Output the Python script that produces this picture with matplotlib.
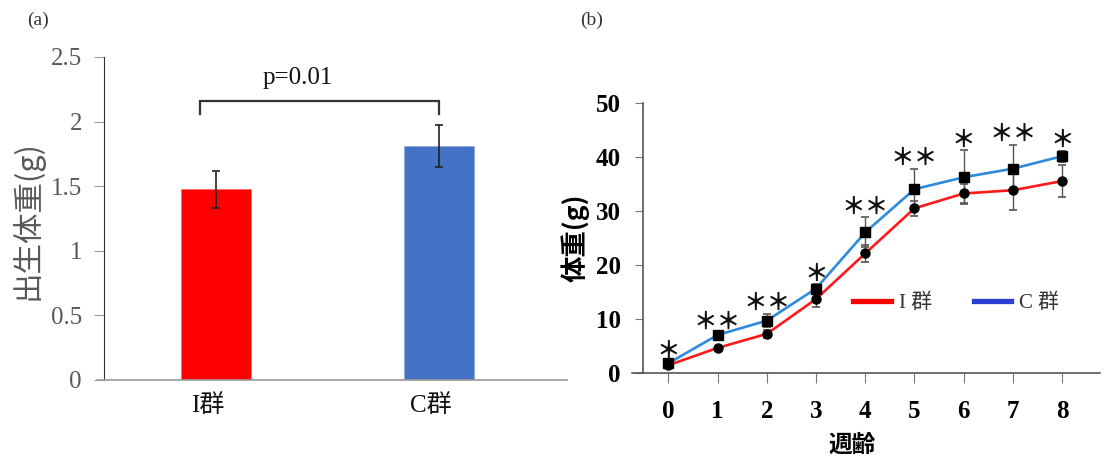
import matplotlib
matplotlib.use("Agg")
import matplotlib.pyplot as plt
from matplotlib.lines import Line2D
import numpy as np

# ---- data: panel (a) ----
groups = ["I群", "C群"]
birth_weight = [1.475, 1.81]
birth_err = [0.14, 0.16]
p_text = "p=0.01"

# ---- data: panel (b) ----
weeks = [0, 1, 2, 3, 4, 5, 6, 7, 8]
i_weight = [1.5, 4.7, 7.3, 13.75, 22.2, 30.55, 33.3, 33.9, 35.6]
i_err = [0.3, 0.4, 0.8, 1.5, 1.5, 1.45, 1.8, 3.7, 2.9]
c_weight = [1.85, 7.1, 9.75, 15.7, 26.1, 34.1, 36.3, 37.9, 40.2]
c_err = [0.3, 0.5, 1.2, 0.8, 2.8, 3.8, 5.0, 4.4, 1.0]
stars = ["＊", "＊＊", "＊＊", "＊", "＊＊", "＊＊", "＊", "＊＊", "＊"]
legend_labels = ["I 群", "C 群"]

W, H = 1105, 459
fig = plt.figure(figsize=(W / 100, H / 100), dpi=100)

SERIF = ["Liberation Serif", "Noto Sans CJK JP"]
CJK = ["Noto Sans CJK JP", "Liberation Serif"]

def px_axes(l, r, b, t):
    return fig.add_axes([l / W, 1 - b / H, (r - l) / W, (b - t) / H])

# ================= panel (a) =================
ax1 = px_axes(97, 567, 380, 57)
xs = np.arange(len(groups))
ax1.bar(xs, birth_weight, width=0.314, color=["#FF0000", "#4472C4"],
        edgecolor=["#FF6666", "#8FAADC"], linewidth=0.6, zorder=2)
ax1.errorbar(xs, birth_weight, yerr=birth_err, fmt="none", ecolor="#222222",
             elinewidth=1.2, capsize=3, capthick=1.2, zorder=3)
ax1.set_xlim(-0.534, 1.574)
ax1.set_ylim(0, 2.5)
ax1.spines["top"].set_visible(False)
ax1.spines["right"].set_visible(False)
ax1.spines["left"].set_position(("data", -0.502))
ax1.spines["left"].set_color("#333333")
ax1.spines["bottom"].set_color("#9a9a9a")
ax1.spines["bottom"].set_linewidth(1.2)
ax1.set_yticks([0, 0.5, 1, 1.5, 2, 2.5])
ax1.set_yticklabels(["0", "0.5", "1", "1.5", "2", "2.5"])
ax1.tick_params(axis="y", direction="out", length=7, color="#9a9a9a",
                labelcolor="#595959", labelsize=18, pad=9)
for t in ax1.get_yticklabels():
    t.set_family(SERIF)
ax1.set_xticks(xs - 0.035)
ax1.set_xticklabels(groups, family=SERIF, fontsize=18, color="#111111")
ax1.tick_params(axis="x", length=0, pad=10)
ax1.set_ylabel("出生体重(g)", family=CJK, fontsize=22, color="#595959")
ax1.yaxis.set_label_coords((27 - 97) / 470, (380 - 220) / 323)
ax1.yaxis.label.set_va("center")

# significance bracket
bx0, bx1 = xs[0] - 0.07, xs[1]
ax1.plot([bx0, bx0, bx1, bx1], [2.06, 2.16, 2.16, 2.06], color="#333333",
         lw=1.6, solid_joinstyle="miter", zorder=3)
ax1.text((bx0 + bx1) / 2 - 0.1, 2.34, p_text, ha="center", va="center",
         family=SERIF, fontsize=18, color="#111111")

fig.text(27 / W, 1 - 20 / H, "(a)", family=SERIF, fontsize=14,
         color="#333333", va="center", ha="left")
fig.text(580 / W, 1 - 20 / H, "(b)", family=SERIF, fontsize=14,
         color="#333333", va="center", ha="left")

# ================= panel (b) =================
ax2 = px_axes(631.7, 1100, 373.3, 103.3)
ax2.errorbar(weeks, i_weight, yerr=i_err, fmt="none", ecolor="#555555",
             elinewidth=1.0, capsize=3, capthick=1.2, zorder=2)
ax2.errorbar(weeks, c_weight, yerr=c_err, fmt="none", ecolor="#555555",
             elinewidth=1.0, capsize=3, capthick=1.2, zorder=2)
ax2.plot(weeks, i_weight, color="#FF1A1A", lw=1.9, marker="o",
         markersize=6.5, markerfacecolor="black", markeredgecolor="black",
         zorder=3)
ax2.plot(weeks, c_weight, color="#2E8BDB", lw=1.9, marker="s",
         markersize=7.5, markerfacecolor="black", markeredgecolor="black",
         zorder=4)
tops = np.maximum(np.array(c_weight) + np.array(c_err),
                  np.array(i_weight) + np.array(i_err))
for wk, s, tp in zip(weeks, stars, tops):
    ax2.text(wk, tp + 2.0, s, ha="center", va="center", family=CJK,
             fontsize=17, fontweight="bold", color="#111111")

ax2.set_xlim(-0.745, 8.77)
ax2.set_ylim(0, 50)
ax2.spines["top"].set_visible(False)
ax2.spines["right"].set_visible(False)
ax2.spines["left"].set_position(("data", -0.52))
for sp in ("left", "bottom"):
    ax2.spines[sp].set_color("#555555")
    ax2.spines[sp].set_linewidth(1.2)
ax2.set_xticks(weeks)
ax2.set_yticks([0, 10, 20, 30, 40, 50])
ax2.tick_params(axis="both", direction="out", color="#777777",
                labelsize=18, labelcolor="black")
ax2.tick_params(axis="y", length=6, pad=10)
ax2.tick_params(axis="x", length=7, pad=12)
for t in ax2.get_xticklabels() + ax2.get_yticklabels():
    t.set_family(SERIF)
    t.set_fontweight("bold")
ax2.set_xlabel("週齢", family=CJK, fontsize=17, fontweight="bold")
ax2.xaxis.set_label_coords((852 - 631.7) / 468.3, (373.3 - 445) / 270)
ax2.xaxis.label.set_va("center")
ax2.set_ylabel("体重(g)", family=CJK, fontsize=19, fontweight="bold")
ax2.yaxis.set_label_coords((575 - 631.7) / 468.3, (373.3 - 238) / 270)
ax2.yaxis.label.set_va("center")

handles = [Line2D([], [], color="#FF0000", lw=3.8),
           Line2D([], [], color="#2B3FD0", lw=3.8)]
leg = ax2.legend(handles, legend_labels, loc="center left",
                 bbox_to_anchor=((853 - 631.7) / 468.3, (373.3 - 303.3) / 270),
                 ncol=2, frameon=False, borderpad=0, borderaxespad=0,
                 handlelength=1.8, handletextpad=0.4, columnspacing=2.0,
                 prop={"family": SERIF, "size": 15})
for t in leg.get_texts():
    t.set_color("#333333")

fig.savefig("out.png", dpi=100)
